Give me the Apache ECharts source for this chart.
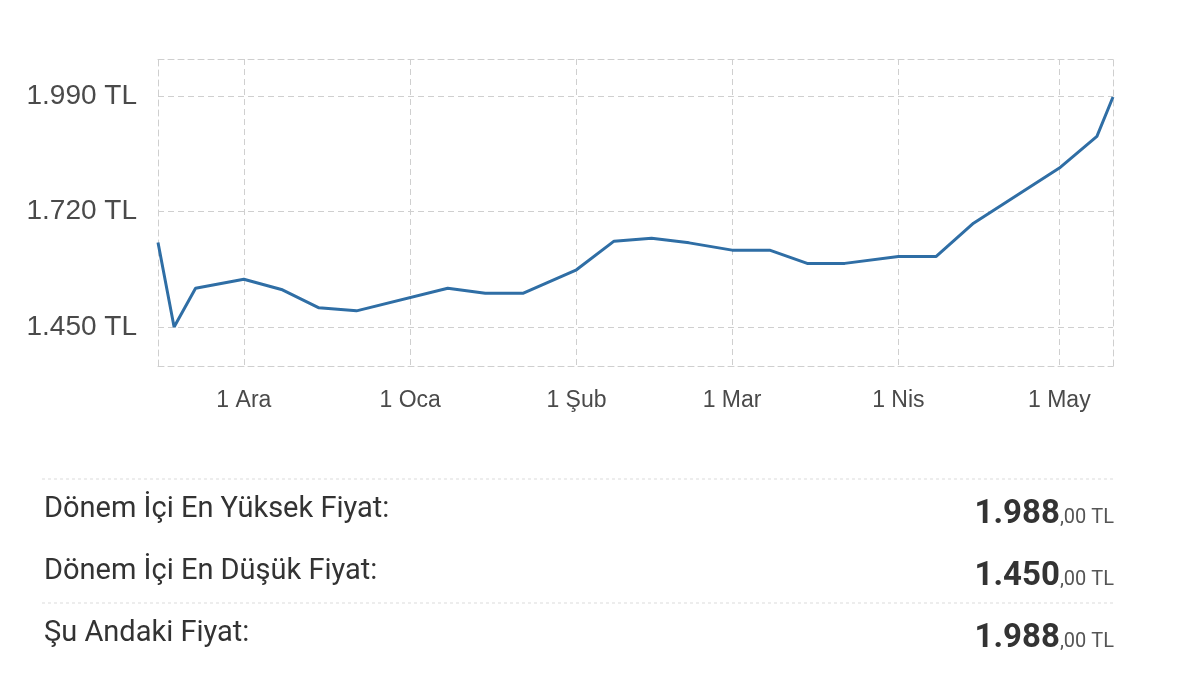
<!DOCTYPE html>
<html>
<head>
<meta charset="utf-8">
<script src="https://cdn.jsdelivr.net/npm/echarts@6/dist/echarts.min.js"></script>
<style>html,body{margin:0;padding:0;background:#fff;}#c{width:1200px;height:699px;}</style>
</head>
<body>
<div id="c"></div>
<script>
const dates = ['2023-11-15','2023-11-18','2023-11-22','2023-12-01','2023-12-08','2023-12-15','2023-12-22',
  '2024-01-08','2024-01-15','2024-01-22','2024-02-01','2024-02-08','2024-02-15','2024-02-22',
  '2024-03-01','2024-03-08','2024-03-15','2024-03-22','2024-04-01','2024-04-08','2024-04-15',
  '2024-05-01','2024-05-08','2024-05-11'];
const prices = [1648,1450,1541,1562,1538,1495,1488,1541,1529,1529,1584,1651,1658,1647,1630,1630,1599,1599,1615,1615,1693,1822,1896,1988];
const yTicks = [1450,1720,1990];
const monthTicks = ['2023-12-01','2024-01-01','2024-02-01','2024-03-01','2024-04-01','2024-05-01'];
const monthNames = ['Oca','Şub','Mar','Nis','May','Haz','Tem','Ağu','Eyl','Eki','Kas','Ara'];
const xRange = ['2023-11-15','2024-05-11'];
const yRange = [1359,2077];
const statLabels = ['Dönem İçi En Yüksek Fiyat:','Dönem İçi En Düşük Fiyat:','Şu Andaki Fiyat:'];
const statMain = ['1.988','1.450','1.988'];
const statSub = [',00 TL',',00 TL',',00 TL'];

const chart = echarts.init(document.getElementById('c'));
const ts = s => { const p = s.split('-').map(Number); return Date.UTC(p[0], p[1]-1, p[2]); };
const gridCol = '#cfcfcf';
const dash = [6,4];
const fmtY = v => String(v).replace(/(\d)(\d{3})$/, '$1.$2') + ' TL';

const graphics = [];
const rowY = [510, 572, 634];
statLabels.forEach((t,i) => {
  graphics.push({type:'text', x:44, y:rowY[i], style:{text:t, font:'29px Roboto', fill:'#333', verticalAlign:'middle', align:'left'}});
  graphics.push({type:'text', x:1114, y:rowY[i]+21, style:{
    text:'{b|'+statMain[i]+'}{s|'+statSub[i]+'}', align:'right', verticalAlign:'bottom',
    rich:{b:{fontFamily:'Roboto', fontWeight:'bold', fontSize:33, fill:'#333', verticalAlign:'bottom'},
          s:{fontFamily:'Roboto', fontSize:20, fill:'#555', verticalAlign:'bottom', padding:[0,0,3,0]}}}});
});
[479, 603].forEach(y => graphics.push({type:'line', shape:{x1:42,y1:y,x2:1115,y2:y}, style:{stroke:'#dcdcdc', lineWidth:1, lineDash:[3,3]}}));

chart.setOption({
  animation:false,
  grid:{left:158, right:87, top:59, bottom:333},
  xAxis:[{
    type:'value', min:ts(xRange[0]), max:ts(xRange[1]),
    axisLine:{show:true, lineStyle:{color:gridCol, type:dash}},
    axisTick:{show:false, customValues: monthTicks.map(ts)},
    axisLabel:{customValues: monthTicks.map(ts), margin:23, color:'#4a4a4a', fontSize:23, fontFamily:'Liberation Sans',
      formatter: v => { const d = new Date(v); return d.getUTCDate() + ' ' + monthNames[d.getUTCMonth()]; }},
    splitLine:{show:true, lineStyle:{color:gridCol, type:dash}}
  },{
    type:'value', position:'top', min:ts(xRange[0]), max:ts(xRange[1]),
    axisLine:{show:true, lineStyle:{color:gridCol, type:dash}},
    axisTick:{show:false}, axisLabel:{show:false}, splitLine:{show:false}
  }],
  yAxis:[{
    type:'value', min:yRange[0], max:yRange[1],
    axisLine:{show:true, lineStyle:{color:gridCol, type:dash}},
    axisTick:{show:false, customValues:yTicks},
    axisLabel:{customValues:yTicks, margin:21, color:'#4a4a4a', fontSize:28, fontFamily:'Liberation Sans', formatter: fmtY},
    splitLine:{show:true, lineStyle:{color:gridCol, type:dash}}
  },{
    type:'value', position:'right', min:yRange[0], max:yRange[1],
    axisLine:{show:true, lineStyle:{color:gridCol, type:dash}},
    axisTick:{show:false}, axisLabel:{show:false}, splitLine:{show:false}
  }],
  series:[{
    type:'line', xAxisIndex:0, yAxisIndex:0, showSymbol:false, symbol:'none',
    data: dates.map((d,i)=>[ts(d), prices[i]]),
    lineStyle:{color:'#2f6ea5', width:3}
  }],
  graphic: graphics
});
</script>
</body>
</html>
